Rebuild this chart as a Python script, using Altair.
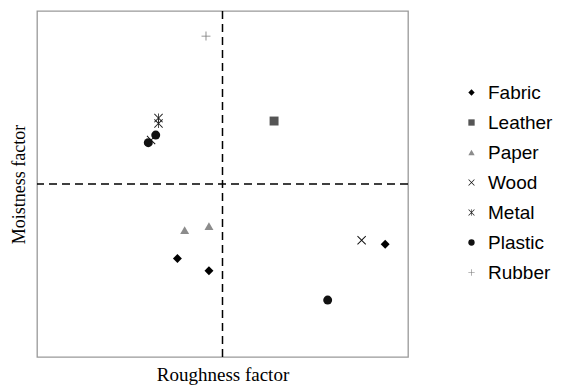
import altair as alt
import pandas as pd

materials = ["Fabric", "Leather", "Paper", "Wood", "Metal", "Plastic", "Rubber"]
colors = ["#000000", "#555555", "#8c8c8c", "#111111", "#222222", "#111111", "#777777"]

pt_material = ["Rubber", "Leather", "Metal", "Metal", "Plastic", "Plastic", "Wood",
               "Plastic", "Wood", "Fabric", "Fabric", "Fabric", "Paper", "Paper"]
pt_x = [-0.089, 0.278, -0.345, -0.345, -0.400, -0.360, -0.385,
        0.567, 0.750, 0.877, -0.243, -0.073, -0.204, -0.073]
pt_y = [0.855, 0.364, 0.381, 0.350, 0.239, 0.283, 0.254,
        -0.671, -0.325, -0.348, -0.431, -0.502, -0.266, -0.243]

x_path = ("M-1,-0.85L-0.85,-1L0,-0.15L0.85,-1L1,-0.85L0.15,0L1,0.85L0.85,1"
          "L0,0.15L-0.85,1L-1,0.85L-0.15,0Z")
plus_path = "M-0.09,-1H0.09V-0.09H1V0.09H0.09V1H-0.09V0.09H-1V-0.09H-0.09Z"
ast_path = x_path + "M-0.09,-1H0.09V1H-0.09Z"
shapes = ["diamond", "square", "triangle-up", x_path, ast_path, "circle", plus_path]

df = pd.DataFrame({"material": pt_material, "x": pt_x, "y": pt_y})
zero = pd.DataFrame({"v": [0]})

xs = alt.Scale(domain=[-1, 1], nice=False, zero=False)
ys = alt.Scale(domain=[-1, 1], nice=False, zero=False)

points = alt.Chart(df).mark_point(filled=True, opacity=1, strokeWidth=0, size=80).encode(
    x=alt.X("x:Q", scale=xs, title="Roughness factor",
            axis=alt.Axis(labels=False, ticks=False, grid=False, domain=False,
                          titleFont="Liberation Serif", titleFontSize=19,
                          titleFontWeight="normal", titleColor="#000", titlePadding=8)),
    y=alt.Y("y:Q", scale=ys, title="Moistness factor",
            axis=alt.Axis(labels=False, ticks=False, grid=False, domain=False,
                          titleFont="Liberation Serif", titleFontSize=18,
                          titleFontWeight="normal", titleColor="#000", titlePadding=9)),
    color=alt.Color("material:N", scale=alt.Scale(domain=materials, range=colors),
                    legend=alt.Legend(title=None, orient="none", legendX=425, legendY=72,
                                      labelFont="Liberation Sans", labelFontSize=19,
                                      labelColor="#000", symbolSize=40, symbolStrokeWidth=0,
                                      rowPadding=10, labelOffset=7, padding=0)),
    shape=alt.Shape("material:N", scale=alt.Scale(domain=materials, range=shapes)),
)

vline = alt.Chart(zero).mark_rule(color="#000", strokeDash=[8, 5], strokeWidth=1.5).encode(
    x=alt.X("v:Q", scale=xs))
hline = alt.Chart(zero).mark_rule(color="#000", strokeDash=[8, 5], strokeWidth=1.5).encode(
    y=alt.Y("v:Q", scale=ys))

chart = alt.layer(vline, hline, points).properties(
    width=371, height=346,
    autosize=alt.AutoSizeParams(type="none"),
    padding={"left": 29, "top": 3, "right": 145, "bottom": 28},
).configure_view(stroke="#999999", strokeWidth=1.3)

chart.save("out.html", embed_options={"renderer": "svg", "actions": False})
